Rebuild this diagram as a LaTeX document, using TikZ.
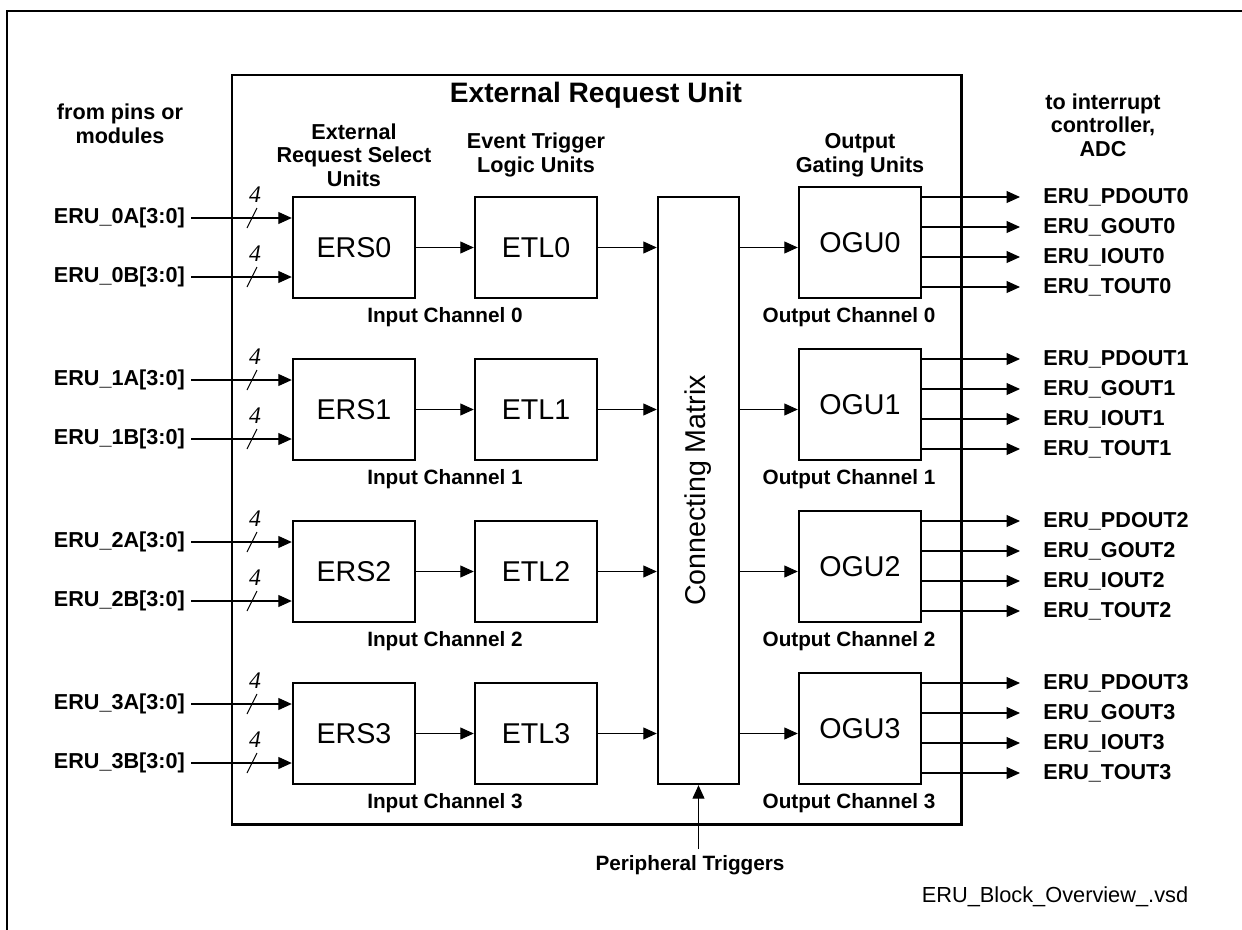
\documentclass[tikz,border=0pt]{standalone}
\usepackage{fontspec}
\usepackage{graphicx}
\setmainfont{Liberation Sans}
\newfontfamily\busfont{Liberation Serif}
\usetikzlibrary{arrows.meta}

\begin{document}
\begin{tikzpicture}[
    x=0.02cm, y=-0.02cm,
    block/.style={draw, line width=1.4pt, minimum width=2.44cm, minimum height=2.02cm, inner sep=0pt, font=\fontsize{16.3}{19}\selectfont},
    oblock/.style={block, minimum height=2.22cm},
    arrow/.style={-{Triangle[length=2.7mm, width=2.4mm]}, line width=0.6pt},
    heading/.style={font=\fontsize{12.3}{13.4}\selectfont\bfseries, align=center},
    chan/.style={font=\fontsize{11.8}{13}\selectfont\bfseries},
    sig/.style={font=\fontsize{12.3}{14}\selectfont\bfseries},
    busw/.style={font=\fontsize{13.5}{15}\selectfont\busfont\itshape, inner sep=0pt}
]
\useasboundingbox (0,0) rectangle (1242,930);

% page frame
\draw[line width=0.8pt] (1242,11) -- (7,11) -- (7,930);

% === EXTERNAL REQUEST UNIT ===
\draw[line width=1.7pt] (232,75) rectangle (961,824);
\node[font=\fontsize{16}{19}\selectfont\bfseries] (title) at (596,95) {External Request Unit};

% Column headings
\node[heading] (hsrc) at (120,124) {from pins or\\modules};
\node[heading] (hers) at (354,155) {External\\Request Select\\Units};
\node[heading] (hetl) at (536,155) {Event Trigger\\Logic Units};
\node[heading] (hogu) at (860,155) {Output\\Gating Units};
\node[heading] (hdst) at (1103,125) {to interrupt\\controller,\\ADC};

% Connecting matrix
\node[block, minimum width=1.62cm, minimum height=11.74cm] (mat) at (698.5,490.5) {\rotatebox{90}{Connecting Matrix}};
\node[chan] (ptrig) at (690,865) {Peripheral Triggers};
\draw[arrow] (ptrig.north -| mat.south) -- (mat.south);

% === CHANNELS ===
\foreach \k in {0,...,3} {
  \pgfmathsetmacro{\yc}{247.5+162*\k}
  \pgfmathsetmacro{\ya}{218+162*\k}
  \pgfmathsetmacro{\yb}{277+162*\k}
  \pgfmathsetmacro{\yo}{242.5+162*\k}
  \pgfmathsetmacro{\yt}{317+162*\k}
  \pgfmathsetmacro{\yq}{197+162*\k}
  % input channel
  \node[block] (ers\k) at (354,\yc) {ERS\k};
  \node[block] (etl\k) at (536,\yc) {ETL\k};
  \node[chan] (ich\k) at (445,\yt) {Input Channel \k};
  \draw[arrow] (ers\k) -- (etl\k);
  \draw[arrow] (etl\k) -- (etl\k -| mat.west);
  % request inputs A and B, 4 bits each
  \node[sig, anchor=east] (ina\k) at (191,\ya) {ERU\_\k A[3:0]};
  \node[sig, anchor=east] (inb\k) at (191,\yb) {ERU\_\k B[3:0]};
  \draw[arrow] (ina\k) -- (ina\k -| ers\k.west);
  \draw[arrow] (inb\k) -- (inb\k -| ers\k.west);
  \draw[line width=0.6pt] (247,\ya+10) -- (257,\ya-10);
  \draw[line width=0.6pt] (247,\yb+10) -- (257,\yb-10);
  \node[busw] (wa\k) at (255,\ya-23) {4};
  \node[busw] (wb\k) at (255,\yb-23) {4};
  % output channel
  \node[oblock] (ogu\k) at (860,\yo) {OGU\k};
  \node[chan] (och\k) at (849,\yt) {Output Channel \k};
  \draw[arrow] (mat.east |- etl\k) -- (ogu\k.west |- etl\k);
  \foreach \s [count=\j from 0] in {PDOUT,GOUT,IOUT,TOUT} {
    \node[sig, anchor=west, inner xsep=0pt] (out\s\k) at (1043,\yq+30*\j) {ERU\_\s\k};
    \draw[arrow] (ogu\k.east |- out\s\k) -- ([xshift=-0.46cm]out\s\k.west);
  }
}

% file name
\node[font=\fontsize{12.4}{14}\selectfont] (fname) at (1055,897) {ERU\_Block\_Overview\_.vsd};

\end{tikzpicture}
\end{document}
